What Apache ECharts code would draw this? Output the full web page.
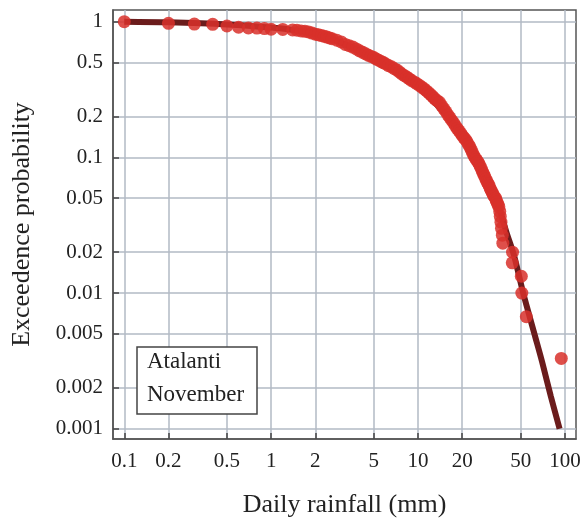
<!DOCTYPE html>
<html><head><meta charset="utf-8">
<script src="https://cdn.jsdelivr.net/npm/echarts@6/dist/echarts.min.js"></script>
<style>html,body{margin:0;padding:0;background:#fff}#c{width:585px;height:521px}</style>
</head><body><div id="c"></div>
<script>
const xTickLabels = ['0.1','0.2','0.5','1','2','5','10','20','50','100'];
const yTickLabels = ['1','0.5','0.2','0.1','0.05','0.02','0.01','0.005','0.002','0.001'];
const xTitle = 'Daily rainfall (mm)';
const yTitle = 'Exceedence probability';
const annotationLines = ['Atalanti', 'November'];

// observed daily rainfall (mm) and empirical exceedance probability
const observedRain = [0.1,0.2,0.3,0.4,0.5,0.6,0.7,0.8,0.9,1.0,1.2,1.4,
 1.5,1.6,1.7,1.8,1.9,2.0,2.1,2.2,2.3,2.4,2.5,2.6,2.8,3.0,3.2,3.4,3.6,3.8,4.0,4.2,4.4,4.6,4.8,
 5.0,5.2,5.4,5.6,5.8,6.0,6.3,6.6,6.9,7.2,7.5,7.8,8.1,8.4,8.7,9.0,9.4,9.8,10.2,10.6,11.0,11.4,11.8,
 12.2,12.6,13.0,13.5,14.0,14.5,15.0,15.5,16.0,16.5,17.0,17.5,18.0,18.5,19.0,19.5,20.0,20.5,21.0,
 21.5,22.0,22.5,23.0,23.5,24.0,24.5,25.0,25.5,26.0,26.5,27.0,27.5,28.0,28.5,29.0,29.5,30.0,30.5,
 31.0,31.5,32.0,32.5,33.0,33.8,34.0,34.5,35.0,35.5,36.0,36.3,36.7,37.0,37.5,37.8,44.0,43.8,50.5,50.9,54.6,94.5];
const observedProb = [1.0,0.973,0.96,0.957,0.93,0.91,0.90,0.897,0.89,0.88,0.877,0.87,
 0.865,0.855,0.85,0.84,0.825,0.81,0.80,0.79,0.78,0.77,0.76,0.75,0.73,0.71,0.68,0.665,0.65,0.63,0.61,0.595,0.58,0.565,0.555,
 0.545,0.53,0.52,0.51,0.50,0.49,0.475,0.465,0.45,0.44,0.425,0.41,0.40,0.39,0.38,0.37,0.36,0.35,0.34,0.33,0.32,0.31,0.30,
 0.29,0.28,0.27,0.262,0.255,0.24,0.228,0.217,0.205,0.196,0.187,0.179,0.17,0.163,0.157,0.151,0.145,0.14,0.136,
 0.131,0.125,0.12,0.114,0.108,0.103,0.099,0.096,0.093,0.09,0.086,0.082,0.078,0.075,0.072,0.069,0.066,0.064,0.062,
 0.059,0.057,0.055,0.053,0.0517,0.05,0.0483,0.0467,0.045,0.0433,0.04,0.0367,0.0333,0.03,0.0267,0.0233,0.02,0.0167,0.0133,0.01,0.0067,0.0033];

// fitted distribution curve
const fitRain = [0.1,0.2,0.5,1,1.5,2,3,5,7,10,15,20,25,30,35,40,45,52,62,70,80,92];
const fitProb = [1.0,0.99,0.955,0.905,0.86,0.81,0.70,0.535,0.43,0.33,0.215,0.148,0.1,0.066,0.045,0.028,0.019,0.01,0.005,0.0031,0.00175,0.001];

const xTicks = xTickLabels.map(Number);
const yTicks = yTickLabels.map(Number);
function makeFmt(labels, ticks) {
  return function (v) {
    let best = 0, bd = Infinity;
    for (let i = 0; i < ticks.length; i++) {
      const d = Math.abs(Math.log10(v) - Math.log10(ticks[i]));
      if (d < bd) { bd = d; best = i; }
    }
    return labels[best];
  };
}
const serif = '"Liberation Serif", "DejaVu Serif", serif';
const chart = echarts.init(document.getElementById('c'), null, {renderer: 'canvas'});
chart.setOption({
  animation: false,
  backgroundColor: '#fff',
  grid: {left: 113, right: 9, top: 10, bottom: 82, containLabel: false, outerBoundsMode: 'none',
         show: true, borderColor: '#555', borderWidth: 1.5, backgroundColor: 'transparent'},
  xAxis: {
    type: 'log', min: 0.0838, max: 119,
    name: xTitle, nameLocation: 'middle', nameGap: 53,
    nameTextStyle: {fontFamily: serif, fontSize: 26, color: '#222'},
    axisLine: {show: true, lineStyle: {color: '#555', width: 1.5}},
    axisTick: {show: true, inside: true, length: 6, customValues: xTicks, lineStyle: {color: '#444', width: 1.5}},
    axisLabel: {customValues: xTicks, formatter: makeFmt(xTickLabels, xTicks), fontFamily: serif, fontSize: 21, color: '#222', margin: 12},
    splitLine: {show: true, lineStyle: {color: '#b2bac4', width: 1.5}},
    minorTick: {show: false}, minorSplitLine: {show: false}
  },
  yAxis: {
    type: 'log', min: 0.00084, max: 1.22,
    name: yTitle, nameLocation: 'middle', nameGap: 78,
    nameTextStyle: {fontFamily: serif, fontSize: 26, color: '#222'},
    axisLine: {show: true, lineStyle: {color: '#555', width: 1.5}},
    axisTick: {show: true, inside: true, length: 6, customValues: yTicks, lineStyle: {color: '#444', width: 1.5}},
    axisLabel: {customValues: yTicks, formatter: makeFmt(yTickLabels, yTicks), fontFamily: serif, fontSize: 21, color: '#222', margin: 10},
    splitLine: {show: true, lineStyle: {color: '#b2bac4', width: 1.5}},
    minorTick: {show: false}, minorSplitLine: {show: false}
  },
  series: [
    {
      type: 'line', data: fitRain.map((x, i) => [x, fitProb[i]]),
      showSymbol: false, symbol: 'none', smooth: 0.3,
      lineStyle: {color: '#6b1c1c', width: 6}, z: 2
    },
    {
      type: 'scatter', data: observedRain.map((x, i) => [x, observedProb[i]]),
      symbol: 'circle', symbolSize: 13,
      itemStyle: {color: '#d8302a', opacity: 0.85}, z: 3
    }
  ],
  graphic: [
    {type: 'rect', shape: {x: 137, y: 347, width: 120, height: 67}, style: {fill: '#fff', stroke: '#444', lineWidth: 1.5}, z: 10},
    {type: 'text', x: 147, y: 362, style: {text: annotationLines[0], font: '23px ' + serif, fill: '#222', textVerticalAlign: 'middle', verticalAlign: 'middle'}, z: 11},
    {type: 'text', x: 147, y: 395, style: {text: annotationLines[1], font: '23px ' + serif, fill: '#222', textVerticalAlign: 'middle', verticalAlign: 'middle'}, z: 11}
  ]
});
</script></body></html>
